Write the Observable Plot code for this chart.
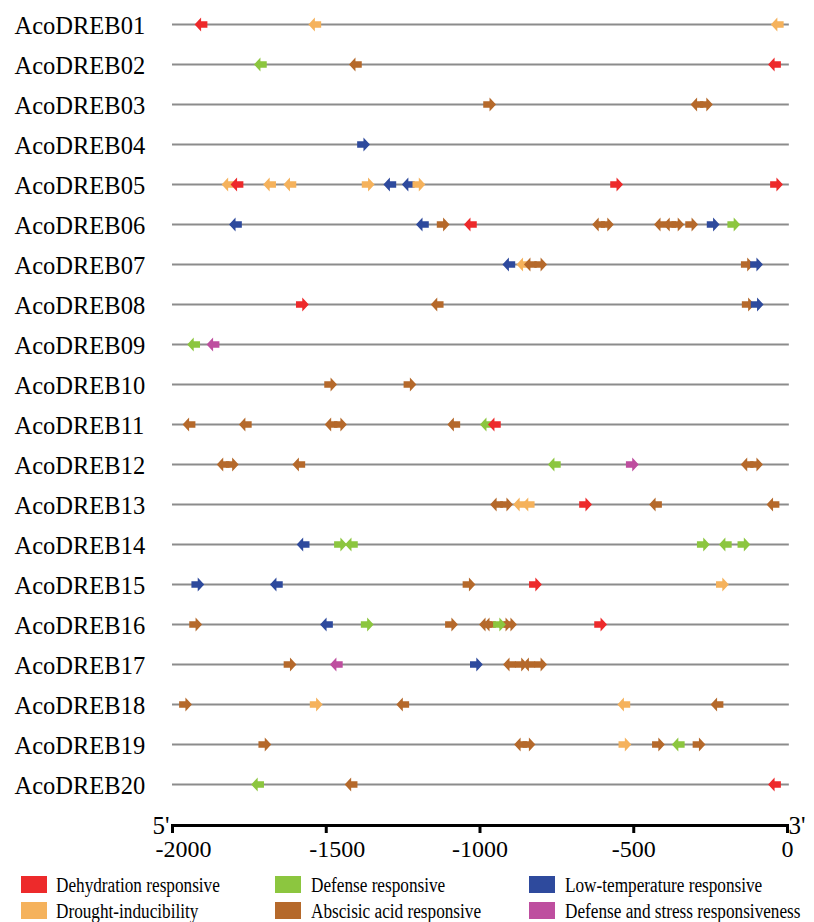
<!DOCTYPE html>
<html>
<head>
<meta charset="utf-8">
<script src="https://cdn.jsdelivr.net/npm/d3@7"></script>
<script src="https://cdn.jsdelivr.net/npm/@observablehq/plot@0.6"></script>
<style>
  html, body { margin: 0; padding: 0; background: #fff; }
  #chart svg { display: block; overflow: visible; }
  #chart svg text { font-family: "Liberation Serif", "Times New Roman", serif !important; }
  #legend { position: relative; width: 814px; height: 56px; font-family: "Liberation Serif", "Times New Roman", serif; }
  .sw { position: absolute; width: 26px; height: 17px; }
  .lt { position: absolute; font-size: 20px; line-height: 20px; white-space: nowrap; transform: scaleX(0.86); transform-origin: left center; color: #000; }
</style>
</head>
<body>
<div id="chart"></div>
<div id="legend"></div>
<script>
// ---- Data ----
const genes = ["AcoDREB01","AcoDREB02","AcoDREB03","AcoDREB04","AcoDREB05","AcoDREB06","AcoDREB07","AcoDREB08","AcoDREB09","AcoDREB10",
               "AcoDREB11","AcoDREB12","AcoDREB13","AcoDREB14","AcoDREB15","AcoDREB16","AcoDREB17","AcoDREB18","AcoDREB19","AcoDREB20"];
const categories = ["Dehydration responsive","Defense responsive","Low-temperature responsive",
                    "Drought-inducibility","Abscisic acid responsive","Defense and stress responsiveness"];
const categoryColors = ["#ED2A2B","#8CC63F","#2E4A9D","#F5B25C","#B5692B","#BE4E9F"];
const xTicks = [-2000, -1500, -1000, -500, 0];
const xTickLabelsLeft = [-2000, -1500];
const xTickLabelsRight = [-1000, -500, 0];

// element sites: [position, category, direction]
const DH = categories[0], DF = categories[1], LT = categories[2], DR = categories[3], ABA = categories[4], DS = categories[5];
const s01 = [[-1907,DH,"L"],[-1537,DR,"L"],[-33,DR,"L"]];
const s02 = [[-1714,DF,"L"],[-1405,ABA,"L"],[-42,DH,"L"]];
const s03 = [[-969,ABA,"R"],[-294,ABA,"L"],[-264,ABA,"R"]];
const s04 = [[-1379,LT,"R"]];
const s05 = [[-1819,DR,"L"],[-1790,DH,"L"],[-1684,DR,"L"],[-1618,DR,"L"],[-1364,DR,"R"],[-1293,LT,"L"],[-1233,LT,"L"],[-1199,DR,"R"],[-556,DH,"R"],[-36,DH,"R"]];
const s06 = [[-1795,LT,"L"],[-1187,LT,"L"],[-1120,ABA,"R"],[-1031,DH,"L"],[-614,ABA,"L"],[-586,ABA,"R"],[-413,ABA,"L"],[-383,ABA,"L"],[-357,ABA,"R"],[-312,ABA,"R"],[-242,LT,"R"],[-175,DF,"R"]];
const s07 = [[-906,LT,"L"],[-860,DR,"L"],[-836,ABA,"L"],[-803,ABA,"R"],[-131,ABA,"R"],[-101,LT,"R"]];
const s08 = [[-1578,DH,"R"],[-1139,ABA,"L"],[-128,ABA,"R"],[-99,LT,"R"]];
const s09 = [[-1931,DF,"L"],[-1868,DS,"L"]];
const s10 = [[-1486,ABA,"R"],[-1228,ABA,"R"]];
const s11 = [[-1946,ABA,"L"],[-1763,ABA,"L"],[-1484,ABA,"L"],[-1454,ABA,"R"],[-1085,ABA,"L"],[-979,DF,"L"],[-953,DH,"L"]];
const s12 = [[-1835,ABA,"L"],[-1806,ABA,"R"],[-1589,ABA,"L"],[-758,DF,"L"],[-505,DS,"R"],[-131,ABA,"L"],[-101,ABA,"R"]];
const s13 = [[-946,ABA,"L"],[-914,ABA,"R"],[-871,DR,"L"],[-843,DR,"L"],[-657,DH,"R"],[-429,ABA,"L"],[-47,ABA,"L"]];
const s14 = [[-1575,LT,"L"],[-1454,DF,"R"],[-1418,DF,"L"],[-274,DF,"R"],[-202,DF,"L"],[-142,DF,"R"]];
const s15 = [[-1918,LT,"R"],[-1662,LT,"L"],[-1036,ABA,"R"],[-820,DH,"R"],[-212,DR,"R"]];
const s16 = [[-1925,ABA,"R"],[-1499,LT,"L"],[-1367,DF,"R"],[-1093,ABA,"R"],[-982,ABA,"L"],[-969,ABA,"L"],[-917,ABA,"R"],[-901,ABA,"R"],[-937,DF,"R"],[-608,DH,"R"]];
const s17 = [[-1618,ABA,"R"],[-1467,DS,"L"],[-1012,LT,"R"],[-904,ABA,"L"],[-866,ABA,"R"],[-841,ABA,"L"],[-803,ABA,"R"]];
const s18 = [[-1958,ABA,"R"],[-1533,DR,"R"],[-1251,ABA,"L"],[-532,DR,"L"],[-229,ABA,"L"]];
const s19 = [[-1700,ABA,"R"],[-868,ABA,"L"],[-841,ABA,"R"],[-529,DR,"R"],[-420,ABA,"R"],[-355,DF,"L"],[-288,ABA,"R"]];
const s20 = [[-1723,DF,"L"],[-1419,ABA,"L"],[-42,DH,"L"]];
const siteLists = [s01,s02,s03,s04,s05,s06,s07,s08,s09,s10,s11,s12,s13,s14,s15,s16,s17,s18,s19,s20];

const sites = siteLists.flatMap((list, i) => list.map(([pos, type, dir]) => ({gene: genes[i], pos, type, dir})));

// ---- Arrow symbols ----
const arrowR = {draw(ctx) {
  ctx.moveTo(-6.3, -3.3); ctx.lineTo(0, -3.3); ctx.lineTo(0, -7); ctx.lineTo(6.5, 0);
  ctx.lineTo(0, 7); ctx.lineTo(0, 3.3); ctx.lineTo(-6.3, 3.3); ctx.closePath();
}};
const arrowL = {draw(ctx) {
  ctx.moveTo(6.3, -3.3); ctx.lineTo(0, -3.3); ctx.lineTo(0, -7); ctx.lineTo(-6.5, 0);
  ctx.lineTo(0, 7); ctx.lineTo(0, 3.3); ctx.lineTo(6.3, 3.3); ctx.closePath();
}};

const serif = "Liberation Serif";
const chart = Plot.plot({
  width: 814,
  height: 866,
  marginLeft: 172,
  marginRight: 27,
  marginTop: 23,
  marginBottom: 41,
  style: {fontFamily: serif, color: "#000", background: "#fff"},
  x: {domain: [-2000, 0], axis: null},
  y: {type: "point", domain: genes, range: [23, 785], padding: 0, axis: null},
  color: {domain: categories, range: categoryColors},
  symbol: {domain: ["L", "R"], range: [arrowL, arrowR]},
  marks: [
    Plot.ruleY(genes, {y: d => d, x1: d => -2000, x2: d => 6, stroke: "#8c8c8c", strokeWidth: 2.2}),
    Plot.dot(sites, {x: "pos", y: "gene", fill: "type", symbol: "dir", stroke: null}),
    Plot.text(genes, {y: d => d, text: d => d, frameAnchor: "left", textAnchor: "start", dx: -158, dy: 2, fontSize: 24.5, fill: "#000"}),
    Plot.frame({anchor: "bottom", stroke: "#000", strokeWidth: 3}),
    Plot.axisX({anchor: "bottom", ticks: xTicks, tickSize: 8, strokeWidth: 3, tickFormat: () => "", label: null}),
    Plot.text(xTickLabelsLeft, {x: d => d, text: d => String(d), frameAnchor: "bottom", lineAnchor: "top", dy: 14, dx: 11, fontSize: 24}),
    Plot.text(xTickLabelsRight, {x: d => d, text: d => String(d), frameAnchor: "bottom", lineAnchor: "top", dy: 14, dx: 0, fontSize: 24}),
    Plot.text(["5'"], {x: d => -2000, frameAnchor: "bottom", lineAnchor: "middle", text: d => d, textAnchor: "end", dx: -3, dy: 0, fontSize: 25}),
    Plot.text(["3'"], {x: d => 0, frameAnchor: "bottom", lineAnchor: "middle", text: d => d, textAnchor: "start", dx: 1, dy: 0, fontSize: 25})
  ]
});
document.getElementById("chart").appendChild(chart);

// ---- Legend ----
const legend = document.getElementById("legend");
const colX = [[21, 56], [275, 311], [529, 565]];
const rowY = [10, 36];
categories.forEach((c, i) => {
  const col = i % 3, row = Math.floor(i / 3);
  const sw = document.createElement("div");
  sw.className = "sw";
  sw.style.left = colX[col][0] + "px";
  sw.style.top = rowY[row] + "px";
  sw.style.background = categoryColors[i];
  legend.appendChild(sw);
  const t = document.createElement("div");
  t.className = "lt";
  t.style.left = colX[col][1] + "px";
  t.style.top = (rowY[row] - 1) + "px";
  t.textContent = c;
  legend.appendChild(t);
});
</script>
</body>
</html>
